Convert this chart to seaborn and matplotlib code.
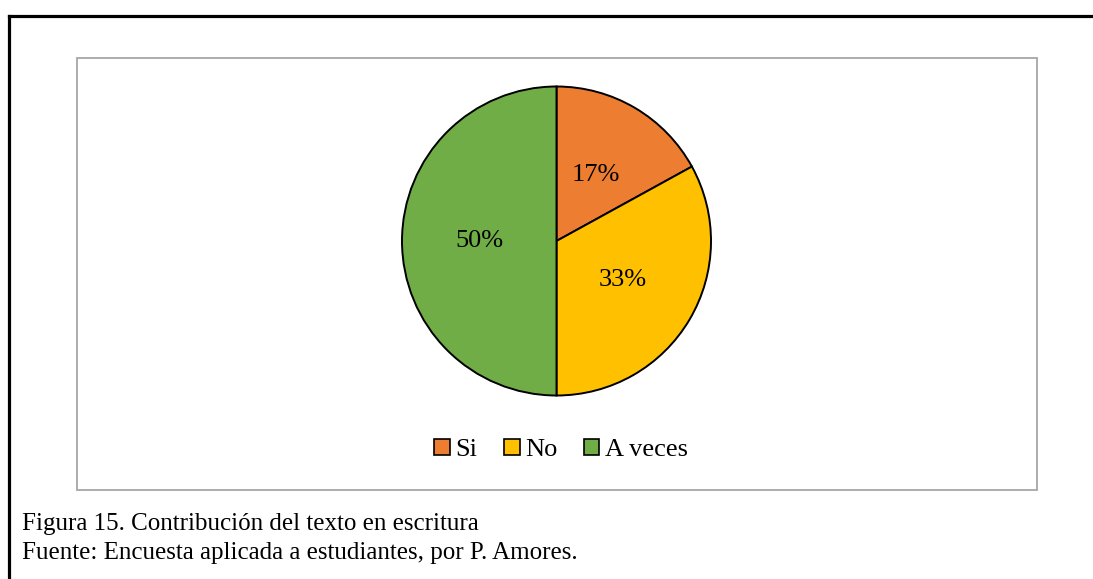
import matplotlib
matplotlib.use("Agg")
import matplotlib.pyplot as plt
import seaborn as sns
from matplotlib.patches import Rectangle, Patch
from matplotlib.lines import Line2D

sns.set_style("white")
plt.rcParams['font.family'] = ['Liberation Serif', 'DejaVu Serif']
plt.rcParams['text.color'] = 'black'

categories = ["Si", "No", "A veces"]
values = [17, 33, 50]
colors = ["#ED7D31", "#FFC000", "#70AD47"]
caption_lines = ["Figura 15. Contribución del texto en escritura",
                 "Fuente: Encuesta aplicada a estudiantes, por P. Amores."]

W, H = 1093, 579
fig = plt.figure(figsize=(W / 100, H / 100), dpi=100)
fig.patch.set_facecolor("white")

def fx(x):
    return x / W

def fy(y):
    return 1 - y / H

# outer frame (top and left edges)
fig.add_artist(Line2D([fx(8.5), 1.0], [fy(15.5), fy(15.5)], color="black", lw=2.3,
                      transform=fig.transFigure, solid_capstyle="projecting"))
fig.add_artist(Line2D([fx(8.5), fx(8.5)], [fy(15.5), 0.0], color="black", lw=2.3,
                      transform=fig.transFigure, solid_capstyle="projecting"))

# chart area box
fig.add_artist(Rectangle((fx(77), fy(490)), fx(1037) - fx(77), fy(58) - fy(490),
                         transform=fig.transFigure, fill=False,
                         edgecolor="#A6A6A6", lw=1.3))

# pie
cx, cy, r = 556.5, 241, 154.5
ax = fig.add_axes([fx(cx - r), fy(cy + r), 2 * r / W, 2 * r / H])
wedges, texts, autotexts = ax.pie(
    values, colors=colors, startangle=90, counterclock=False,
    autopct="%.0f%%", pctdistance=0.5,
    wedgeprops=dict(edgecolor="black", linewidth=1.4),
    textprops=dict(fontsize=19, color="black"))
ax.set_xlim(-1.0, 1.0)
ax.set_ylim(-1.0, 1.0)
ax.set_aspect("equal")
ax.axis("off")

# legend
handles = [Patch(facecolor=c, edgecolor="black", linewidth=1.2) for c in colors]
fig.legend(handles, categories, loc="center", bbox_to_anchor=(fx(561), fy(450)),
           ncol=3, frameon=False, fontsize=19, handlelength=0.6, handleheight=0.6,
           handletextpad=0.2, columnspacing=1.0, labelcolor="black")

# caption
fig.text(fx(22), fy(524), caption_lines[0], fontsize=18, va="center", ha="left", color="black")
fig.text(fx(22), fy(553), caption_lines[1], fontsize=18, va="center", ha="left", color="black")

fig.savefig("out.png", dpi=100, facecolor="white")
